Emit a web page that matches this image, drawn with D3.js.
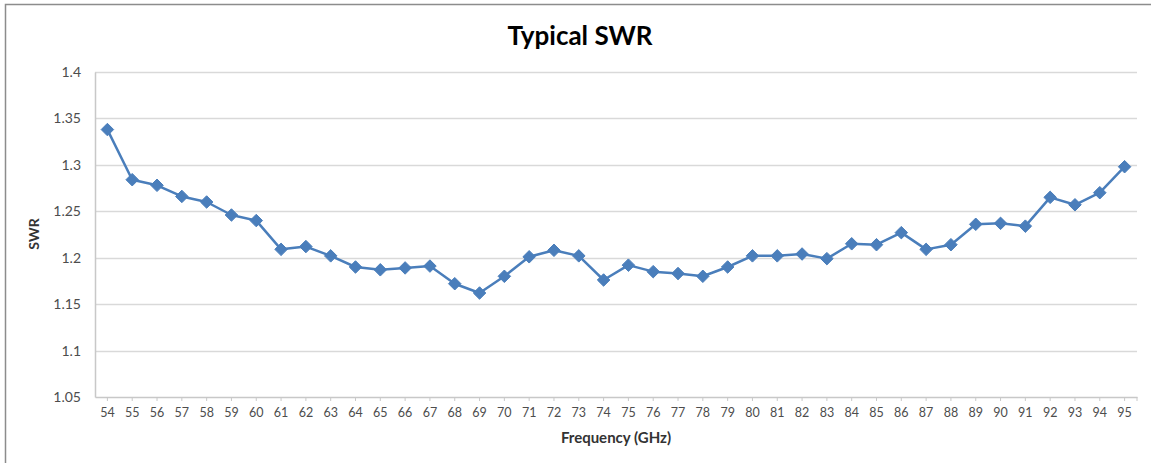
<!DOCTYPE html>
<html>
<head>
<meta charset="utf-8">
<script src="https://cdn.jsdelivr.net/npm/d3@7"></script>
<style>
html,body{margin:0;padding:0;background:#fff;}
svg{display:block;}
</style>
</head>
<body>
<svg id="chart" width="1151" height="463"></svg>
<script>
const categories = [54,55,56,57,58,59,60,61,62,63,64,65,66,67,68,69,70,71,72,73,74,75,76,77,78,79,80,81,82,83,84,85,86,87,88,89,90,91,92,93,94,95];
const swrValues = [1.338,1.284,1.278,1.266,1.260,1.246,1.240,1.209,1.212,1.202,1.190,1.187,1.189,1.191,1.172,1.162,1.180,1.201,1.208,1.202,1.176,1.192,1.185,1.183,1.180,1.190,1.202,1.202,1.204,1.199,1.215,1.214,1.227,1.209,1.214,1.236,1.237,1.234,1.265,1.257,1.270,1.298];
const yTicks = [1.05,1.1,1.15,1.2,1.25,1.3,1.35,1.4];
const titleText = "Typical SWR";
const xTitle = "Frequency (GHz)";
const yTitle = "SWR";

(function(){
const svg = d3.select("#chart");
const font = "Lato, 'Open Sans', sans-serif";
const pLeft = 95, pRight = 1137, pTop = 72, pBottom = 397;

// outer chart border (left/top visible)
svg.append("path").attr("d", "M5.5,463 V4.5 H1151").attr("fill","none").attr("stroke","#8c8c8c").attr("stroke-width",1.5);

const x = d3.scaleBand().domain(categories).range([pLeft, pRight]).padding(0);
const y = d3.scaleLinear().domain([1.05, 1.4]).range([pBottom, pTop]);

// gridlines
svg.append("g").selectAll("line").data(yTicks.filter(d => d > 1.05)).join("line")
  .attr("x1", pLeft).attr("x2", pRight)
  .attr("y1", d => Math.round(y(d)) + 0.5).attr("y2", d => Math.round(y(d)) + 0.5)
  .attr("stroke", "#d9d9d9").attr("stroke-width", 1.5);

// y axis
const yAxis = d3.axisLeft(y).tickValues(yTicks).tickSize(0).tickPadding(14).tickFormat(d3.format("~g"));
const gy = svg.append("g").attr("transform", `translate(${pLeft},0)`).call(yAxis);
gy.select(".domain").attr("stroke", "#c8c8c8").attr("stroke-width", 1.5);
gy.selectAll("text").attr("font-family", font).attr("font-size", 14).attr("fill", "#4d4d4d");

// x axis
const xAxis = d3.axisBottom(x).tickSize(4).tickPadding(7).tickSizeOuter(0);
const gx = svg.append("g").attr("transform", `translate(0,${pBottom})`).call(xAxis);
gx.select(".domain").attr("stroke", "#c8c8c8").attr("stroke-width", 1.5);
gx.selectAll(".tick line").attr("stroke", "#c8c8c8");
gx.selectAll("text").attr("font-family", font).attr("font-size", 12.5).attr("fill", "#4d4d4d");
gx.append("line").attr("x1", pRight).attr("x2", pRight).attr("y1", 0).attr("y2", 4).attr("stroke", "#c8c8c8");

// line
const cx = d => x(d) + x.bandwidth() / 2;
const pts = categories.map((c, i) => [cx(c), y(swrValues[i])]);
svg.append("path").datum(pts)
  .attr("d", d3.line())
  .attr("fill", "none").attr("stroke", "#4a7ebb").attr("stroke-width", 2.5).attr("stroke-linejoin", "round");

// diamond markers
const diamond = d3.symbol().type(d3.symbolDiamond2).size(100);
svg.append("g").selectAll("path").data(pts).join("path")
  .attr("d", diamond)
  .attr("transform", d => `translate(${d[0]},${d[1]})`)
  .attr("fill", "#4a7ebb").attr("stroke", "#4a7ebb").attr("stroke-width", 1);

// titles
svg.append("text").attr("x", 580).attr("y", 45).attr("text-anchor", "middle")
  .attr("font-family", font).attr("font-weight", "bold").attr("font-size", 26).attr("fill", "#000").text(titleText);
svg.append("text").attr("x", 616).attr("y", 443).attr("text-anchor", "middle")
  .attr("font-family", font).attr("font-weight", "bold").attr("font-size", 15).attr("fill", "#333").text(xTitle);
svg.append("text").attr("transform", "translate(39,234) rotate(-90)").attr("text-anchor", "middle")
  .attr("font-family", font).attr("font-weight", "bold").attr("font-size", 14).attr("fill", "#333").text(yTitle);
})();
</script>
</body>
</html>
